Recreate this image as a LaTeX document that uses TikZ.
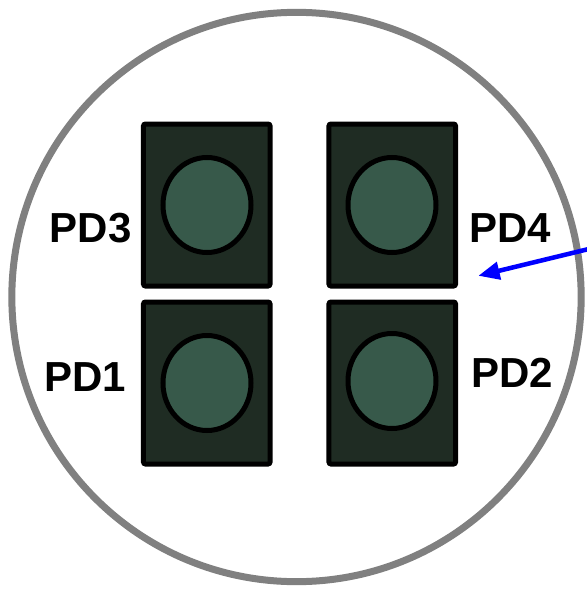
\documentclass[tikz,border=0pt]{standalone}
\usepackage{fontspec}
\setmainfont{Liberation Sans}
\usetikzlibrary{arrows.meta}
\definecolor{boxfill}{HTML}{1F2C23}
\definecolor{eyefill}{HTML}{37594A}
\definecolor{ringgray}{HTML}{808080}
\tikzset{
  ring/.style={circle, draw=ringgray, line width=5.25pt, fill=white, minimum size=427pt, inner sep=0pt, outer sep=0pt},
  pdbox/.style={rectangle, draw=black, fill=boxfill, line width=3.75pt, rounded corners=1.5pt, minimum width=94.9pt, minimum height=121.5pt, inner sep=0pt, outer sep=0pt},
  pdeye/.style={ellipse, draw=black, fill=eyefill, line width=3.75pt, minimum width=66pt, minimum height=71.25pt, inner sep=0pt, outer sep=0pt},
  pdlabel/.style={anchor=base, font=\fontsize{31.5}{36}\selectfont\bfseries, inner sep=0pt},
  beam/.style={draw={rgb,255:red,0;green,0;blue,255}, line width=3.4pt, -{Triangle[length=16pt,width=13pt]}}
}
\usetikzlibrary{shapes.geometric}
\begin{document}
\begin{tikzpicture}[x=0.75pt, y=-0.75pt]
\useasboundingbox (0,0) rectangle (586,589);
\node[ring] (ring) at (296.5,297) {};
\node[pdbox] (b3) at (206.75,205) {};
\node[pdbox] (b4) at (392.25,205) {};
\node[pdbox] (b1) at (206.75,383) {};
\node[pdbox] (b2) at (392.25,383) {};
\node[pdeye] (e3) at (207,205) {};
\node[pdeye] (e4) at (392,205) {};
\node[pdeye] (e1) at (207,383) {};
\node[pdeye] (e2) at (392,381) {};
\node[pdlabel] (l3) at (90.6,242) {PD3};
\node[pdlabel] (l4) at (510,242) {PD4};
\node[pdlabel] (l1) at (85,391) {PD1};
\node[pdlabel] (l2) at (512.5,387) {PD2};
\coordinate (src) at (590,248.7);
\coordinate (tgt) at (478.3,275.8);
\draw[beam] (src) -- (tgt);
\end{tikzpicture}
\end{document}
